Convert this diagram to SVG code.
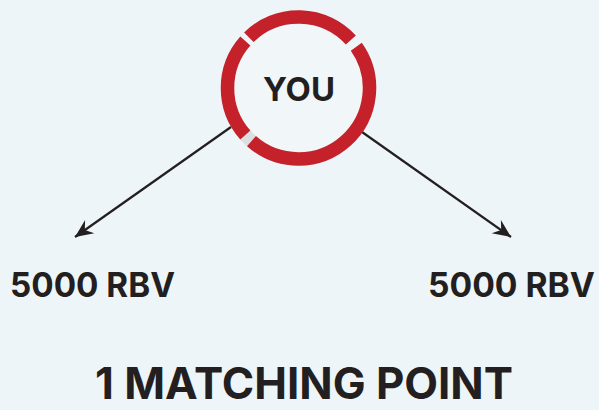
<svg xmlns="http://www.w3.org/2000/svg" width="599" height="410" viewBox="0 0 599 410">
  <defs>
    <style>
      .lbl { font-family: Inter, "Liberation Sans", sans-serif; font-weight: 700; fill: #231f20; }
      .ring { fill: none; stroke: #c4212a; stroke-width: 13.5; stroke-linecap: butt; }
      .conn { stroke: #231f20; stroke-width: 2.2; fill: none; }
    </style>
    <marker id="arr" markerUnits="userSpaceOnUse" markerWidth="22" markerHeight="18" viewBox="-19 -9 21 18" refX="0" refY="0" orient="auto">
      <path d="M0,0 L-18,-8 L-12,0 L-18,8 Z" fill="#231f20"/>
    </marker>
  </defs>
  <rect width="599" height="410" fill="#eef5f9"/>
  <g id="connectors">
    <line class="conn" x1="231" y1="127" x2="75" y2="237" marker-end="url(#arr)"/>
    <line class="conn" x1="362" y1="132" x2="511" y2="237" marker-end="url(#arr)"/>
  </g>
  <g id="you">
    <circle cx="298.5" cy="88" r="64" fill="#f1f6f9"/>
    <path d="M251.46 141.18 A71 71 0 0 1 245.32 135.05" fill="none" stroke="#dcdfe1" stroke-width="13.5"/>
    <path class="ring" d="M248.81 37.27 A71 71 0 0 1 350.85 40.03"/>
    <path class="ring" d="M356.30 46.77 A71 71 0 0 1 251.46 141.18"/>
    <path class="ring" d="M245.32 135.05 A71 71 0 0 1 245.32 40.95"/>
    <text class="lbl" x="299" y="101" font-size="33" text-anchor="middle" textLength="72" lengthAdjust="spacingAndGlyphs">YOU</text>
  </g>
  <g id="left">
    <text class="lbl" x="10" y="297" font-size="34" textLength="165" lengthAdjust="spacingAndGlyphs">5000 RBV</text>
  </g>
  <g id="right">
    <text class="lbl" x="428" y="297" font-size="34" textLength="167" lengthAdjust="spacingAndGlyphs">5000 RBV</text>
  </g>
  <g id="title">
    <text class="lbl" x="95" y="399" font-size="44" textLength="418" lengthAdjust="spacingAndGlyphs">1 MATCHING POINT</text>
  </g>
</svg>
